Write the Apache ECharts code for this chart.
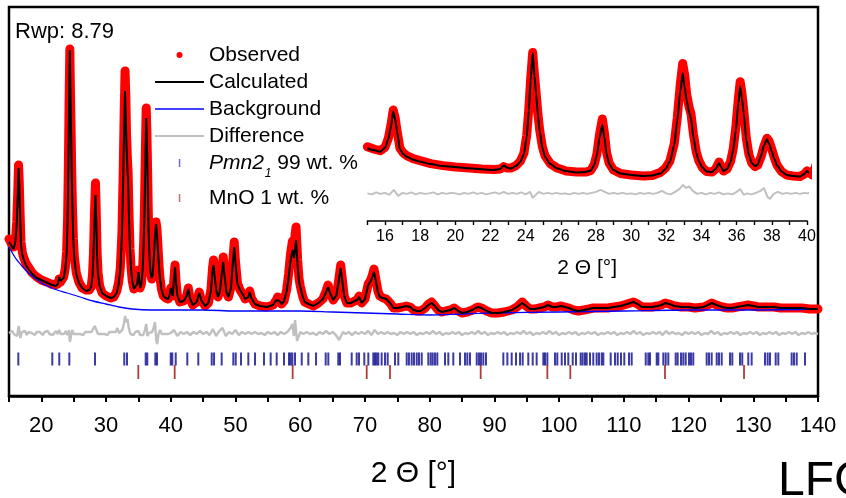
<!DOCTYPE html>
<html><head><meta charset="utf-8">
<script src="https://cdn.jsdelivr.net/npm/echarts@6/dist/echarts.min.js"></script>
<style>html,body{margin:0;padding:0;background:#fff}#c{width:846px;height:498px}</style>
</head><body><div id="c"></div>
<script>
// 2-theta grid (degrees) for observed / calculated profiles
const twoTheta = [15.0,15.4,15.72,16.0,16.19,16.35,16.47,16.58,16.67,16.85,17.05,17.24,17.6,18.0,18.6,19.3,20.0,20.8,21.5,22.2,22.55,22.75,22.95,23.15,23.45,23.7,23.9,24.06,24.18,24.28,24.4,24.5,24.59,24.7,24.8,24.95,25.1,25.4,25.8,26.3,26.9,27.4,27.7,27.9,28.05,28.2,28.36,28.48,28.6,28.75,29.0,29.4,30.0,30.7,31.2,31.65,31.95,32.2,32.45,32.62,32.8,32.93,33.05,33.16,33.3,33.4,33.54,33.7,33.85,34.05,34.3,34.6,34.8,35.0,35.12,35.25,35.45,35.65,35.8,35.95,36.1,36.2,36.3,36.4,36.55,36.7,36.86,37.05,37.2,37.4,37.55,37.72,37.85,38.0,38.15,38.3,38.55,38.85,39.2,39.6,39.85,40.0,40.15,40.3,40.5,40.65,40.8,41.0,41.4,42.0,42.45,42.7,42.95,43.4,44.0,44.4,44.7,45.3,45.8,46.2,46.45,46.6,46.8,47.05,47.3,47.6,47.9,48.1,48.3,48.6,48.9,49.3,49.55,49.8,50.0,50.3,50.7,51.2,51.5,51.7,52.0,52.2,52.45,53.0,53.8,54.8,55.8,56.3,56.5,56.8,57.1,57.5,57.9,58.2,58.5,58.8,59.05,59.35,59.6,59.8,60.0,60.4,60.7,61.3,62.0,62.8,63.5,64.0,64.3,64.6,65.1,65.6,65.95,66.25,66.5,66.8,67.2,67.8,68.4,68.8,69.1,69.5,70.0,70.5,70.9,71.2,71.4,71.65,72.0,72.3,72.8,73.3,73.6,74.0,74.4,75.0,75.8,76.4,77.0,77.5,78.0,78.6,79.3,79.8,80.3,80.8,81.3,81.9,82.5,83.2,83.8,84.4,85.0,85.8,86.6,87.1,87.5,88.0,88.8,89.6,90.5,91.5,92.7,93.5,94.3,94.9,95.5,96.3,97.0,97.7,98.3,98.9,99.6,100.3,100.9,101.5,102.2,103.0,103.8,104.6,105.3,106.0,106.6,107.5,108.5,109.5,110.5,111.5,112.1,112.8,113.6,114.4,115.2,115.8,116.4,117.0,117.8,118.9,120.0,121.0,122.3,123.0,123.6,124.3,125.2,126.0,126.7,127.5,128.4,129.2,130.0,130.8,131.5,132.3,133.2,134.2,135.4,136.5,137.5,138.7,140.0];
// calculated intensity (a.u.)
const yCalc = [154,150,147,155,172,200,228,212,191,152,142,137,131,127,122,118,116,113.5,111.5,110,112,119,115,113,118,127,142,177,230,290,346,300,265,220,188,155,137,122,113,108,105,106,109,120,140,175,201,175,142,122,110,103,100,98,99,103,112,127,160,210,270,305,275,250,226,215,177,145,128,115,107,106,112,124,116,108,112,126,150,190,245,278,255,225,170,140,124,118,121,140,160,172,163,147,132,119,107,100,98,97,102,108,104,100,118,129,115,101,94,95,100,107,98,91,94,103,96,90,93,105,125,131,118,105,99,105,124,134,120,104,99,108,130,149,132,112,106,101,97,95,99,104,98,92,90,89,91,96,98,95,92,95,105,118,135,146,138,156,130,115,109,99,94,92,90,93,97,104,109,103,96,101,115,128,115,100,93,93,95,96,99,93,97,111,115,120,124,116,104,99,98,97,96,92,88,88,89,90,89,86,85,85,88,91,93,90,86,84,85,86,88,85,83,84,86,88,89,88,85,83,83,84,86,89,93,90,87,87,88,89,91,89,89,90,89,88,86,85,86,87,88,88,88,88,89,90,92,94,92,89,89,89,90,91,93,92,90,89,89,88,89,91,93,91,89,88,88,89,90,91,90,89,89,89,89,88,88,88,88,87,87];
// observed intensity (a.u.)
const yObs = [157,152,149,156,174,203,231,215,193,154,144,139,133,129,123,119,116,114,112,111,112,117,114,114,119,128,144,180,233,292,347,303,268,222,190,157,139,123,114,108,106,106,109,121,142,182,213,185,146,124,110,103,100,98,99,105,114,128,163,215,285,325,300,262,236,224,183,147,129,115,107,106,112,126,117,108,112,127,152,195,255,288,265,232,174,141,124,117,120,138,158,174,168,152,134,120,107,100,98,97,102,108,104,100,119,131,116,101,94,95,100,108,98,91,94,104,96,90,93,106,128,136,120,106,99,106,127,139,122,104,99,109,133,154,134,113,106,101,97,95,99,105,98,92,90,89,91,96,99,95,92,95,106,122,142,155,152,169,136,118,110,99,94,92,90,93,97,105,111,104,96,101,116,131,117,100,93,93,95,96,100,93,97,112,116,122,127,118,105,100,98,97,96,92,88,88,89,90,89,86,85,85,88,92,94,90,86,84,85,86,88,85,83,84,86,88,89,88,85,83,83,84,86,89,94,90,87,87,88,89,91,89,89,90,89,88,86,85,86,87,88,88,88,88,89,90,92,94,92,89,89,89,90,91,93,92,90,89,89,88,89,91,93,91,89,88,88,89,90,91,90,89,89,89,89,88,88,88,88,87,87];
// background
const bkgTheta = [15,16,17,18,19,20,21,22,24,26,28,30,32,34,37,40,45,50,55,60,65,70,75,80,85,90,100,110,120,130,140];
const yBkg = [149,138,130,123,118,113,110,107,103,99,95,92,89,87,86,86,86,85,85,85,84,83,82,81,82,83,84,85,86,86,87];
// difference curve (offset, a.u.)
const diffPoints = [[15,63],[15.25,61],[15.5,65],[15.75,62],[16,64],[16.25,60],[16.5,70],[16.75,58],[17,64],[17.25,62],[17.5,65],[17.75,61],[18,64],[18.25,62],[18.5,63],[18.75,65],[19,61],[19.25,64],[19.5,62],[19.75,64],[20,63],[20.25,61],[20.5,64],[20.75,62],[21,65],[21.25,62],[21.5,64],[21.75,61],[22,63],[22.25,65],[22.5,62],[22.75,66],[23,62],[23.25,64],[23.5,62],[23.75,65],[24,61],[24.25,66],[24.4,54],[24.5,57],[24.75,66],[25,62],[25.25,64],[25.5,62],[25.75,64],[26,62],[26.25,63],[26.5,61],[26.75,64],[27,62],[27.25,64],[27.5,62],[27.75,64],[28,66],[28.25,70],[28.5,66],[28.75,62],[29,64],[29.25,62],[29.5,64],[29.75,62],[30,63],[30.25,61],[30.5,64],[30.75,62],[31,64],[31.25,62],[31.5,64],[31.75,68],[32,63],[32.25,61],[32.5,66],[32.75,72],[32.95,80],[33.1,74],[33.3,77],[33.5,68],[33.75,62],[34,64],[34.25,61],[34.5,64],[34.75,62],[35,65],[35.25,61],[35.5,63],[35.75,61],[36,66],[36.2,72],[36.4,60],[36.6,63],[36.85,61],[37.1,64],[37.35,68],[37.55,74],[37.75,56],[37.9,52],[38.1,62],[38.35,66],[38.6,62],[38.85,64],[39.1,62],[39.35,64],[39.6,62],[39.85,64],[40,63],[40.5,66],[41,60],[41.5,64],[42,62],[42.5,64],[43,61],[43.5,64],[44,62],[44.5,65],[45,62],[45.5,64],[46,61],[46.5,67],[47,60],[47.5,65],[48,68],[48.5,60],[49,64],[49.5,62],[50,66],[50.5,61],[51,64],[51.5,62],[52,64],[52.5,62],[53,64],[53.5,62],[54,63],[54.5,61],[55,64],[55.5,62],[56,64],[56.5,61],[57,64],[57.5,62],[58,64],[58.5,68],[58.8,72],[59,60],[59.2,76],[59.5,55],[60,64],[60.5,62],[61,64],[61.5,62],[62,63],[62.5,61],[63,64],[63.5,62],[64,65],[64.5,62],[65,64],[65.5,61],[66,56],[66.3,54],[66.6,64],[67,62],[67.5,64],[68,61],[68.5,64],[69,62],[69.5,64],[70,62],[70.5,65],[71,61],[71.5,66],[72,62],[72.5,64],[73,62],[73.5,64],[74,62],[74.5,63],[75,61],[75.5,64],[76,62],[76.5,64],[77,62],[77.5,64],[78,61],[78.5,63],[79,62],[79.5,64],[80,62],[80.5,65],[81,62],[81.5,64],[82,61],[82.5,63],[83,62],[83.5,64],[84,62],[84.5,64],[85,61],[85.5,63],[86,62],[86.5,64],[87,62],[87.5,65],[88,62],[88.5,64],[89,61],[89.5,63],[90,62],[90.5,64],[91,62],[91.5,64],[92,61],[92.5,63],[93,62],[93.5,64],[94,62],[94.5,65],[95,62],[95.5,64],[96,61],[96.5,63],[97,62],[97.5,64],[98,62],[98.5,65],[99,62],[99.5,64],[100,61],[100.5,63],[101,62],[101.5,64],[102,62],[102.5,64],[103,61],[103.5,63],[104,62],[104.5,64],[105,62],[105.5,64],[106,61],[106.5,63],[107,62],[107.5,64],[108,62],[108.5,64],[109,61],[109.5,63],[110,62],[110.5,64],[111,62],[111.5,65],[112,62],[112.5,64],[113,61],[113.5,63],[114,62],[114.5,64],[115,62],[115.5,64],[116,61],[116.5,65],[117,62],[117.5,64],[118,62],[118.5,63],[119,61],[119.5,64],[120,62],[120.5,64],[121,62],[121.5,64],[122,61],[122.5,63],[123,62],[123.5,65],[124,62],[124.5,64],[125,61],[125.5,63],[126,62],[126.5,64],[127,62],[127.5,64],[128,61],[128.5,63],[129,62],[129.5,64],[130,62],[130.5,64],[131,61],[131.5,63],[132,62],[132.5,64],[133,62],[133.5,64],[134,61],[134.5,63],[135,62],[135.5,64],[136,62],[136.5,64],[137,61],[137.5,63],[138,62],[138.5,64],[139,62],[139.5,63],[140,62]];
// reflection positions
const pmnTicks = [16.44,21.69,22.77,24.32,28.29,32.81,33.23,36.12,36.37,37.61,37.87,39.99,40.23,40.76,42.55,44.25,46.32,46.68,47.86,49.66,50.03,50.85,51.98,53.01,54.40,55.43,56.36,57.49,58.26,58.52,58.78,59.19,60.23,61.25,62.44,63.93,64.34,65.88,66.14,67.95,68.72,69.08,69.90,70.52,71.29,71.55,71.81,72.06,72.58,73.10,73.51,74.64,75.15,76.45,76.80,77.22,77.58,78.0,78.35,78.77,79.79,80.16,80.47,80.82,81.18,82.37,82.88,83.65,84.69,85.46,85.82,86.23,87.27,87.62,87.93,88.29,88.70,91.38,92.0,92.67,93.34,93.96,94.37,95.24,95.92,96.53,97.56,97.82,98.18,99.36,99.72,100.40,100.91,101.42,102.10,102.61,103.33,103.64,104.0,104.26,104.77,105.28,105.80,106.16,106.58,106.83,107.97,108.63,109.05,109.56,110.07,110.80,111.21,113.38,113.78,114.04,115.08,115.33,116.10,116.47,116.87,118.01,118.32,118.83,119.19,119.56,120.07,120.38,120.73,122.80,123.16,123.57,124.35,124.70,125.12,126.40,126.76,127.95,128.30,129.23,129.75,131.81,132.22,132.58,133.46,133.87,135.93,136.29,136.71,137.99];
const mnoTicks = [34.98,40.6,58.83,70.27,73.87,87.88,98.18,101.73,116.36,128.57];
const mainTickLabels = [20,30,40,50,60,70,80,90,100,110,120,130,140];
const insetTickLabels = [16,18,20,22,24,26,28,30,32,34,36,38,40];

const FONT = "'Liberation Sans', Arial, Helvetica, sans-serif";
const PMN_ROW = 37, MNO_ROW = 24;
const obsData = twoTheta.map((t, i) => [t, yObs[i]]);
const calcData = twoTheta.map((t, i) => [t, yCalc[i]]);
const bkgData = bkgTheta.map((t, i) => [t, yBkg[i]]);
const pmnData = pmnTicks.map(t => [t, PMN_ROW]);
const mnoData = mnoTicks.map(t => [t, MNO_ROW]);

// legend tick icon: full-width invisible box with a thin tick in the middle
const TICK_ICON = 'path://M0,0H0.01V0.01H0Z M23.8,0H25.3V8H23.8Z M48.99,7.99H49V8H48.99Z';

const chart = echarts.init(document.getElementById('c'), null, {renderer: 'canvas'});
const legendText = {fontSize: 21, lineHeight: 22, color: '#000', fontFamily: FONT};
const option = {
  animation: false,
  textStyle: {fontFamily: FONT},
  title: {text: 'Rwp: 8.79', left: 15, top: 21, padding: 0,
    textStyle: {fontSize: 22, fontWeight: 'normal', color: '#000', fontFamily: FONT}},
  legend: [
    {data: [{name: 'Observed', icon: 'circle'},
            {name: 'Calculated', icon: 'path://M0,0H49V2.2H0Z'},
            {name: 'Background', icon: 'path://M0,0H49V1.4H0Z'},
            {name: 'Difference', icon: 'path://M0,0H49V1.8H0Z'}],
     orient: 'vertical', left: 155, top: 44, itemWidth: 49, itemHeight: 6, itemGap: 5, padding: 0,
     selectedMode: false, textStyle: legendText},
    {data: [{name: 'Pmn21', icon: TICK_ICON, itemStyle: {color: '#4a4ab0'}}],
     orient: 'vertical', left: 155, top: 146, itemWidth: 49, itemHeight: 8, padding: 0, selectedMode: false,
     formatter: () => '{i|Pmn2}{s|1}{n| 99 wt. %}',
     textStyle: {color: '#000', fontFamily: FONT, fontSize: 21, lineHeight: 22,
       rich: {i: {fontStyle: 'italic', fontSize: 21, lineHeight: 22, fontFamily: FONT},
              s: {fontStyle: 'italic', fontSize: 12, lineHeight: 22, padding: [22, 0, 0, 1], fontFamily: FONT},
              n: {fontSize: 21, lineHeight: 22, fontFamily: FONT}}}},
    {data: [{name: 'MnO 1 wt. %', icon: TICK_ICON, itemStyle: {color: '#a85050'}}],
     orient: 'vertical', left: 155, top: 187, itemWidth: 49, itemHeight: 8, padding: 0, selectedMode: false,
     textStyle: legendText}
  ],
  grid: [
    {left: 9, top: 7, width: 809, height: 389, show: true, borderColor: '#000', borderWidth: 2.5, backgroundColor: 'transparent'},
    {left: 367.4, top: 30, width: 439.6, height: 191}
  ],
  xAxis: [
    {gridIndex: 0, type: 'value', min: 15, max: 140, interval: 5,
     axisLine: {show: true, lineStyle: {color: '#000', width: 2.5}},
     axisTick: {show: true, length: 6, lineStyle: {color: '#000', width: 2}},
     axisLabel: {formatter: v => mainTickLabels.includes(v) ? String(v) : '', fontSize: 22, color: '#000', margin: 19, fontFamily: FONT},
     splitLine: {show: false},
     name: '2 \u0398 [\u00b0]', nameLocation: 'middle', nameGap: 63,
     nameTextStyle: {fontSize: 30, color: '#000', fontFamily: FONT}},
    {gridIndex: 1, type: 'value', min: 15, max: 40, interval: 1,
     axisLine: {show: true, lineStyle: {color: '#000', width: 1.6}},
     axisTick: {show: true, length: 4, lineStyle: {color: '#000', width: 1.4}},
     axisLabel: {formatter: v => insetTickLabels.includes(v) ? String(v) : '', fontSize: 16, color: '#000', margin: 8, fontFamily: FONT},
     splitLine: {show: false},
     name: '2 \u0398 [\u00b0]', nameLocation: 'middle', nameGap: 37,
     nameTextStyle: {fontSize: 21, color: '#000', fontFamily: FONT}}
  ],
  yAxis: [
    {gridIndex: 0, type: 'value', min: 0, max: 389, show: false},
    {gridIndex: 1, type: 'value', min: 7.3, max: 392.4, show: false}
  ],
  graphic: [
    {type: 'text', left: 778, top: 458, z: 10,
     style: {text: 'LFC', fontSize: 48, fill: '#000', fontFamily: FONT}}
  ],
  series: [
    {name: 'Observed', type: 'line', xAxisIndex: 0, yAxisIndex: 0, data: obsData, color: '#ff0000',
     symbol: 'none', lineStyle: {color: '#ff0000', width: 9, join: 'round', cap: 'round'}, silent: true},
    {name: 'Background', type: 'line', xAxisIndex: 0, yAxisIndex: 0, data: bkgData, color: '#0000ff',
     symbol: 'none', smooth: 0.3, lineStyle: {color: '#0000ff', width: 1.3}, silent: true},
    {name: 'Calculated', type: 'line', xAxisIndex: 0, yAxisIndex: 0, data: calcData, color: '#000000',
     symbol: 'none', lineStyle: {color: '#000', width: 2}, silent: true},
    {name: 'Difference', type: 'line', xAxisIndex: 0, yAxisIndex: 0, data: diffPoints, color: '#c0c0c0',
     symbol: 'none', lineStyle: {color: '#c0c0c0', width: 2.4}, silent: true},
    {name: 'Pmn21', type: 'scatter', xAxisIndex: 0, yAxisIndex: 0, data: pmnData, color: '#0a0a8c',
     symbol: 'rect', symbolSize: [2, 13], itemStyle: {color: '#0a0a8c'}, silent: true},
    {name: 'MnO 1 wt. %', type: 'scatter', xAxisIndex: 0, yAxisIndex: 0, data: mnoData, color: '#9b0a0a',
     symbol: 'rect', symbolSize: [1.8, 14], itemStyle: {color: '#9b0a0a'}, silent: true},
    // inset
    {name: 'Observed', type: 'line', xAxisIndex: 1, yAxisIndex: 1, data: obsData, color: '#ff0000',
     symbol: 'none', lineStyle: {color: '#ff0000', width: 9, join: 'round', cap: 'round'}, silent: true},
    {name: 'Calculated', type: 'line', xAxisIndex: 1, yAxisIndex: 1, data: calcData, color: '#000000',
     symbol: 'none', smooth: 0.25, smoothMonotone: 'x', lineStyle: {color: '#000', width: 2}, silent: true},
    {name: 'Difference', type: 'line', xAxisIndex: 1, yAxisIndex: 1, data: diffPoints, color: '#c0c0c0',
     symbol: 'none', lineStyle: {color: '#c0c0c0', width: 2}, silent: true}
  ]
};
chart.setOption(option);
</script></body></html>
